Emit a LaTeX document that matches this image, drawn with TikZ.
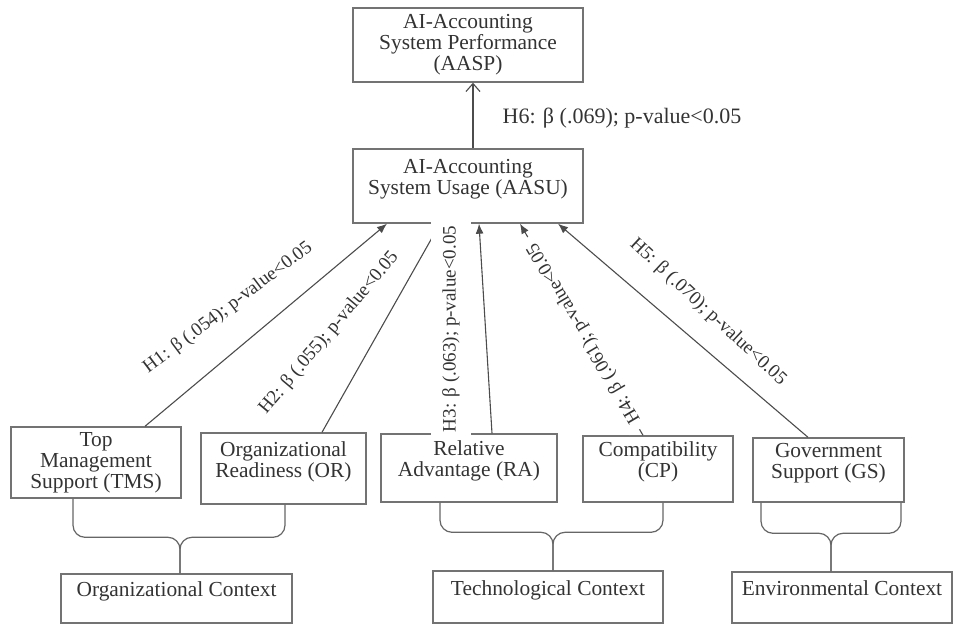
\documentclass[tikz,border=0pt]{standalone}
\usepackage{fontspec}
\setmainfont{Liberation Serif}
\usetikzlibrary{arrows.meta,calc}
\newcommand{\bxfont}{\fontsize{10.7}{10.5}\selectfont}
\newcommand{\lblfont}{\fontsize{9.5}{11}\selectfont}
\newcommand{\lowstrut}{\rule[-9pt]{0pt}{9pt}}

\begin{document}
\begin{tikzpicture}[x=0.5pt,y=-0.5pt,
box/.style={draw=cbox,line width=0.7pt,text=ctxt,font=\bxfont,align=center,inner sep=0pt},
hyp/.style={draw=cedge,line width=0.55pt,-{Latex[length=5pt,width=4pt]}},
hlabel/.style={text=ctxt,font=\lblfont,inner sep=2pt},
ctxbrace/.style={draw=cbrace,line width=0.6pt,rounded corners=6pt}]
\definecolor{cbox}{rgb}{0.45,0.45,0.45}
\definecolor{ctxt}{rgb}{0.2,0.2,0.2}
\definecolor{cedge}{rgb}{0.3,0.3,0.3}
\definecolor{cbrace}{rgb}{0.4,0.4,0.4}
\useasboundingbox (0,0) rectangle (955,625);
%
\node[box,minimum width=115pt,minimum height=37pt] (aasp) at (468,45) {AI-Accounting\\System Performance\\(AASP)};
\node[box,minimum width=115pt,minimum height=37pt] (aasu) at (468,186) {AI-Accounting\\System Usage (AASU)\lowstrut};
\node[box,minimum width=85pt,minimum height=35.5pt] (tms) at (96,462.5) {Top\\Management\\Support (TMS)};
\node[box,minimum width=82.5pt,minimum height=35.5pt] (or) at (283.5,468.5) {Organizational\\Readiness (OR)\lowstrut};
\node[box,minimum width=88pt,minimum height=34pt] (ra) at (469,468) {Relative\\Advantage (RA)\lowstrut};
\node[box,minimum width=75pt,minimum height=33pt] (cp) at (658,469) {Compatibility\\(CP)\lowstrut};
\node[box,minimum width=75.5pt,minimum height=32pt] (gs) at (828.5,470) {Government\\Support (GS)\lowstrut};
\node[box,minimum width=115.5pt,minimum height=24.5pt] (orgctx) at (176.5,598.5) {Organizational Context\lowstrut};
\node[box,minimum width=115pt,minimum height=26pt] (techctx) at (548,597) {Technological Context\lowstrut};
\node[box,minimum width=110pt,minimum height=25.5pt] (envctx) at (842,597.5) {Environmental Context\lowstrut};
%
\draw[hyp] ($(tms.north)+(49,0)$) -- ($(aasu.south)+(-81,0)$);
\draw[hyp] ($(or.north)+(38.5,0)$) -- ($(aasu.south)+(-28,0)$);
\draw[hyp] ($(ra.north)+(23,0)$) -- ($(aasu.south)+(11,0)$);
\draw[hyp] ($(cp.north)+(-15,0)$) -- ($(aasu.south)+(52,0)$);
\draw[hyp] ($(gs.north)+(-20.5,0)$) -- ($(aasu.south)+(90,0)$);
\draw[hyp,-{Straight Barb[length=4pt,width=7pt]}] ($(aasu.north)+(5,0)$) -- ($(aasp.south)+(5,0)$);
%
\coordinate (orgjoin) at ($(orgctx.north)+(3.5,-36)$);
\draw[ctxbrace] ($(tms.south)+(-23,0)$) |- (orgjoin) -- ($(orgctx.north)+(3.5,0)$);
\draw[ctxbrace] ($(or.south)+(1.5,0)$) |- (orgjoin) -- ($(orgctx.north)+(3.5,0)$);
\coordinate (techjoin) at ($(techctx.north)+(5,-38)$);
\draw[ctxbrace] ($(ra.south)+(-29,0)$) |- (techjoin) -- ($(techctx.north)+(5,0)$);
\draw[ctxbrace] ($(cp.south)+(5,0)$) |- (techjoin) -- ($(techctx.north)+(5,0)$);
\coordinate (envjoin) at ($(envctx.north)+(-11,-38)$);
\draw[ctxbrace] ($(gs.south)+(-67.5,0)$) |- (envjoin) -- ($(envctx.north)+(-11,0)$);
\draw[ctxbrace] ($(gs.south)+(72.5,0)$) |- (envjoin) -- ($(envctx.north)+(-11,0)$);
%
\node[hlabel,rotate=37] (lh1) at (228,308) {H1: β (.054); p-value<0.05};
\node[hlabel,rotate=50] (lh2) at (329,333) {H2: β (.055); p-value<0.05};
\node[hlabel,rotate=90,fill=white,inner xsep=4pt,inner ysep=5.5pt] (lh3) at (451,329) {H3: β (.063); p-value<0.05};
\node[hlabel,rotate=120.5,fill=white,inner xsep=4pt] (lh4) at (584,333) {H4: β (.061); p-value<0.05};
\node[hlabel,rotate=-43] (lh5) at (708,312) {H5: β (.070); p-value<0.05};
\node[hlabel,font=\fontsize{11}{13}\selectfont] (lh6) at (622,118) {H6: β (.069); p-value<0.05};
%
\end{tikzpicture}
\end{document}
